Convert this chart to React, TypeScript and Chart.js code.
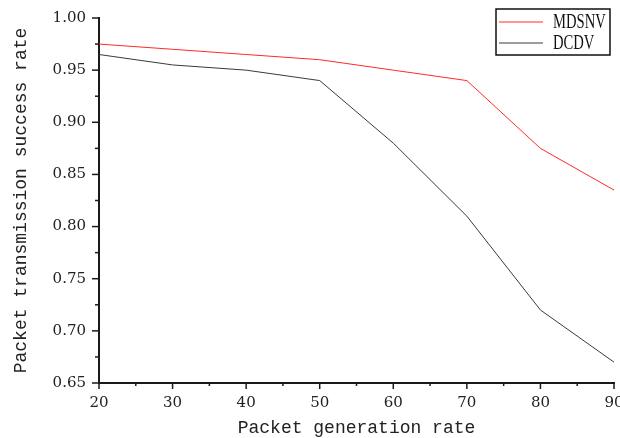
import React, { useEffect, useRef } from "react";
import { Chart, registerables } from "chart.js";

Chart.register(...registerables);

const categories = [20, 30, 40, 50, 60, 70, 80, 90];
const mdsnv = [0.975, 0.97, 0.965, 0.96, 0.95, 0.94, 0.875, 0.835];
const dcdv = [0.965, 0.955, 0.95, 0.94, 0.88, 0.81, 0.72, 0.67];
const seriesLabels = ["MDSNV", "DCDV"];
const seriesColors = ["#ff2a2a", "#3a3a3a"];
const xTitle = "Packet generation rate";
const yTitle = "Packet transmission success rate";

const MONO = "'Liberation Mono', monospace";
const SERIF = "'Liberation Serif', serif";
const TICKF = "'DejaVu Serif', serif";

const ticksPlugin = {
  id: "customTicks",
  afterDraw(chart: any) {
    const ctx = chart.ctx;
    const xs = chart.scales.x;
    const ys = chart.scales.y;
    const area = chart.chartArea;
    ctx.save();
    ctx.strokeStyle = "#1a1a1a";
    ctx.lineWidth = 1.5;
    for (let v = xs.min; v <= xs.max + 0.001; v += 5) {
      const major = Math.abs(v % 10) < 0.001;
      const px = xs.getPixelForValue(v);
      ctx.beginPath();
      ctx.moveTo(px, area.bottom);
      ctx.lineTo(px, area.bottom + (major ? 6 : 3));
      ctx.stroke();
    }
    for (let i = 0; i <= 14; i++) {
      const v = ys.min + i * 0.025;
      const major = i % 2 === 0;
      const py = ys.getPixelForValue(v);
      ctx.beginPath();
      ctx.moveTo(area.left, py);
      ctx.lineTo(area.left - (major ? 7 : 4), py);
      ctx.stroke();
    }
    const bx = 496, by = 9, bw = 114, bh = 46;
    ctx.lineWidth = 1.5;
    ctx.strokeStyle = "#111";
    ctx.strokeRect(bx, by, bw, bh);
    chart.data.datasets.forEach((ds: any, i: number) => {
      const ly = by + 13 + i * 21;
      ctx.strokeStyle = ds.borderColor;
      ctx.lineWidth = 1;
      ctx.beginPath();
      ctx.moveTo(bx + 3, ly);
      ctx.lineTo(bx + 47, ly);
      ctx.stroke();
      ctx.save();
      ctx.translate(bx + 57, ly + 1);
      ctx.scale(0.73, 1);
      ctx.fillStyle = "#111";
      ctx.font = `20px ${SERIF}`;
      ctx.textBaseline = "middle";
      ctx.textAlign = "left";
      ctx.fillText(ds.label, 0, 0);
      ctx.restore();
    });
    ctx.restore();
  },
};

export default function App() {
  const ref = useRef<HTMLCanvasElement>(null);
  useEffect(() => {
    const chart = new Chart(ref.current!, {
      type: "line",
      data: {
        datasets: [
          {
            label: seriesLabels[0],
            data: categories.map((c, i) => ({ x: c, y: mdsnv[i] })),
            borderColor: seriesColors[0],
            borderWidth: 1,
            pointRadius: 0,
            tension: 0,
          },
          {
            label: seriesLabels[1],
            data: categories.map((c, i) => ({ x: c, y: dcdv[i] })),
            borderColor: seriesColors[1],
            borderWidth: 1,
            pointRadius: 0,
            tension: 0,
          },
        ],
      },
      options: {
        animation: false,
        responsive: false,
        maintainAspectRatio: false,
        layout: { padding: { top: 18, right: 6, left: 0, bottom: 0 } },
        plugins: { legend: { display: false }, tooltip: { enabled: false } },
        scales: {
          x: {
            type: "linear",
            min: 20,
            max: 90,
            afterFit: (s: any) => {
              s.height = 55;
              s.paddingLeft = 0;
              s.paddingRight = 0;
            },
            grid: { display: false, drawTicks: false },
            border: { display: true, color: "#1a1a1a", width: 2 },
            ticks: {
              stepSize: 10,
              padding: 11,
              color: "#222",
              maxRotation: 0,
              font: { family: TICKF, size: 15 },
            },
            title: {
              display: true,
              text: xTitle,
              color: "#222",
              font: { family: MONO, size: 18 },
              padding: { top: 0, bottom: -1 },
            },
          },
          y: {
            min: 0.65,
            max: 1.0,
            afterFit: (s: any) => {
              s.width = 99;
              s.paddingTop = 0;
              s.paddingBottom = 0;
            },
            grid: { display: false, drawTicks: false },
            border: { display: true, color: "#1a1a1a", width: 2 },
            ticks: {
              stepSize: 0.05,
              padding: 13,
              color: "#222",
              font: { family: TICKF, size: 15 },
              callback: (v: any) => Number(v).toFixed(2),
            },
            title: {
              display: true,
              text: yTitle,
              color: "#222",
              font: { family: MONO, size: 18 },
              padding: { top: 10, bottom: 0 },
            },
          },
        },
      },
      plugins: [ticksPlugin],
    } as any);
    return () => chart.destroy();
  }, []);
  return (
    <div style={{ position: "absolute", left: 0, top: 0, width: 620, height: 438, background: "#fff" }}>
      <canvas ref={ref} width={620} height={438} />
    </div>
  );
}
